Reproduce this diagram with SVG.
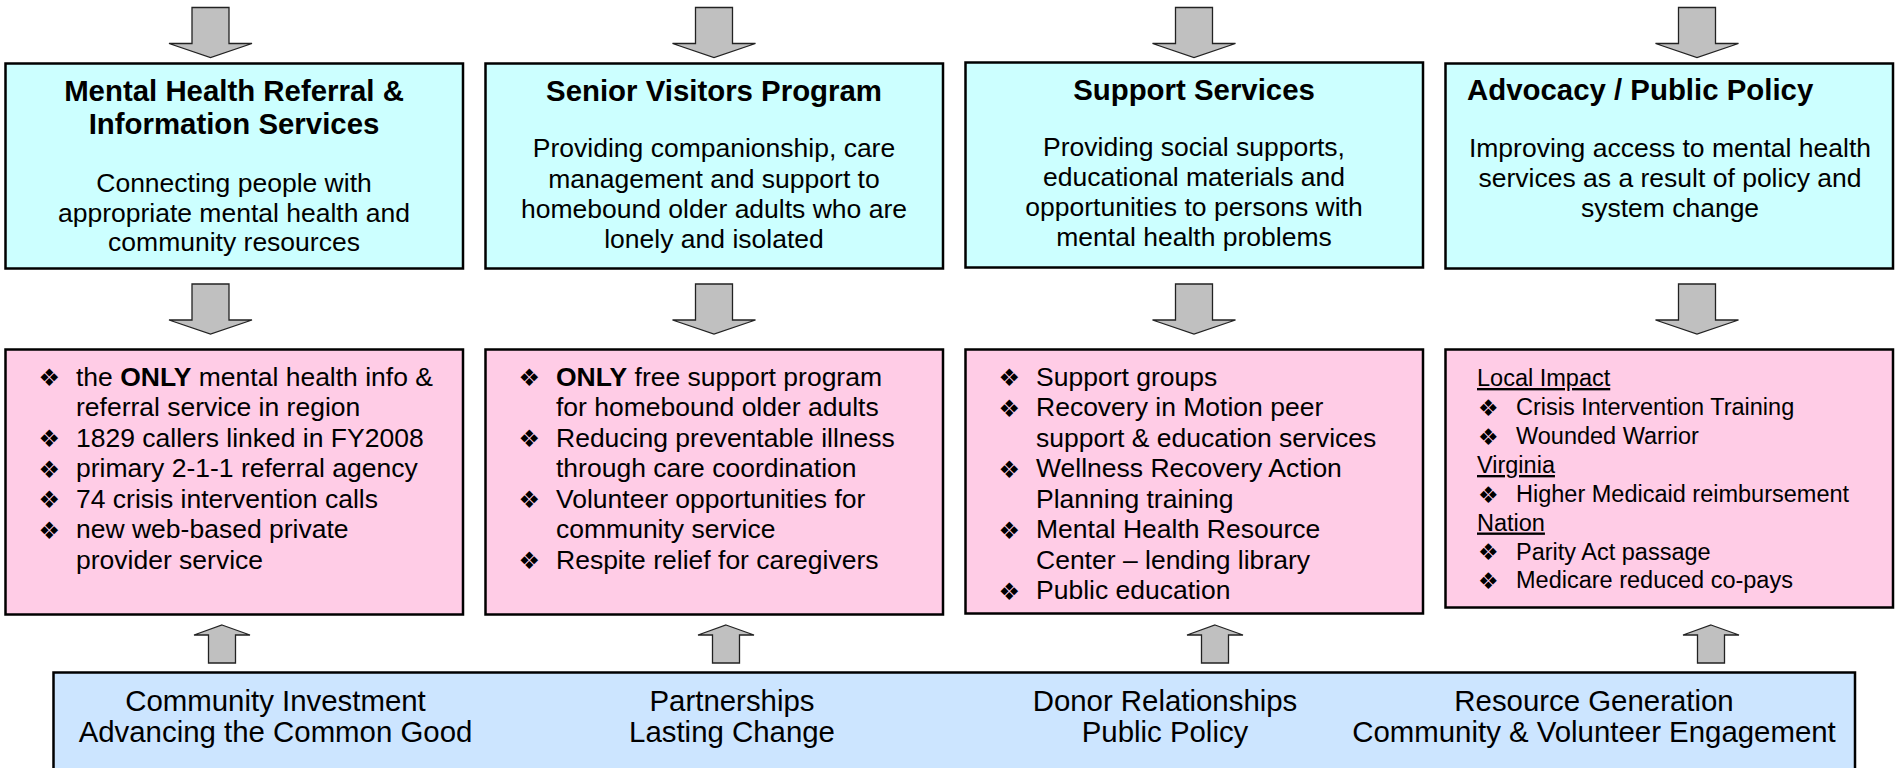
<svg xmlns="http://www.w3.org/2000/svg" width="1902" height="768" viewBox="0 0 1902 768">
<style>
text{font-family:"Liberation Sans",Arial,sans-serif;fill:#000}
.title{font-size:29.4px;font-weight:bold;text-anchor:middle}
.body{font-size:26.5px;text-anchor:middle}
.li{font-size:26.5px}
.li4{font-size:23.5px}
.bu{font-family:"DejaVu Sans",sans-serif;font-size:24px}
.bu4{font-family:"DejaVu Sans",sans-serif;font-size:23px}
.bot{font-size:29.4px;text-anchor:middle}
.cyan{fill:#CCFFFF;stroke:#000;stroke-width:2.5}
.pink{fill:#FFCCE6;stroke:#000;stroke-width:2.5}
.blue{fill:#CCE5FF;stroke:#000;stroke-width:2.5}
.arr{fill:#C0C0C0;stroke:#222;stroke-width:1.3;stroke-linejoin:miter}
.u{text-decoration:underline}
</style>
<defs>
<path id="down" class="arr" d="M-18.5,0 H18.5 V36 H41.5 L0,50 L-41.5,36 H-18.5 Z"/>
<path id="up" class="arr" d="M0,0 L28,10 H13.5 V38 H-13.5 V10 H-28 Z"/>
</defs>
<g id="connectors">
<use href="#down" transform="translate(210.5,7.5)"/>
<use href="#down" transform="translate(714,7.5)"/>
<use href="#down" transform="translate(1194,7.5)"/>
<use href="#down" transform="translate(1697,7.5)"/>
<use href="#down" transform="translate(210.5,284)"/>
<use href="#down" transform="translate(714,284)"/>
<use href="#down" transform="translate(1194,284)"/>
<use href="#down" transform="translate(1697,284)"/>
<use href="#up" transform="translate(222,625)"/>
<use href="#up" transform="translate(726,625)"/>
<use href="#up" transform="translate(1215,625)"/>
<use href="#up" transform="translate(1711,625)"/>
</g>
<g id="mh-referral">
<rect class="cyan" x="5.5" y="63.5" width="457.5" height="205"/>
<text class="title" x="234" y="101">Mental Health Referral &amp;</text>
<text class="title" x="234" y="134">Information Services</text>
<text class="body" x="234" y="191.5">Connecting people with</text>
<text class="body" x="234" y="221.5">appropriate mental health and</text>
<text class="body" x="234" y="251">community resources</text>
</g>
<g id="senior-visitors">
<rect class="cyan" x="485.5" y="63.5" width="457.5" height="205"/>
<text class="title" x="714" y="101">Senior Visitors Program</text>
<text class="body" x="714" y="157">Providing companionship, care</text>
<text class="body" x="714" y="187.5">management and support to</text>
<text class="body" x="714" y="218">homebound older adults who are</text>
<text class="body" x="714" y="248">lonely and isolated</text>
</g>
<g id="support-services">
<rect class="cyan" x="965.5" y="62.5" width="457.5" height="205"/>
<text class="title" x="1194" y="100">Support Services</text>
<text class="body" x="1194" y="156">Providing social supports,</text>
<text class="body" x="1194" y="186">educational materials and</text>
<text class="body" x="1194" y="216">opportunities to persons with</text>
<text class="body" x="1194" y="246">mental health problems</text>
</g>
<g id="advocacy">
<rect class="cyan" x="1445.5" y="63.5" width="447.5" height="205"/>
<text class="title" x="1467" y="100" style="text-anchor:start">Advocacy / Public Policy</text>
<text class="body" x="1670" y="157">Improving access to mental health</text>
<text class="body" x="1670" y="187">services as a result of policy and</text>
<text class="body" x="1670" y="217">system change</text>
</g>
<g id="mh-referral-outcomes">
<rect class="pink" x="5.5" y="349.5" width="457.5" height="265"/>
<text class="bu" x="38.5" y="386">❖</text>
<text class="li" x="76" y="385.5">the <tspan font-weight="bold">ONLY</tspan> mental health info &amp;</text>
<text class="li" x="76" y="416">referral service in region</text>
<text class="bu" x="38.5" y="447">❖</text>
<text class="li" x="76" y="446.5">1829 callers linked in FY2008</text>
<text class="bu" x="38.5" y="477.5">❖</text>
<text class="li" x="76" y="477">primary 2-1-1 referral agency</text>
<text class="bu" x="38.5" y="508">❖</text>
<text class="li" x="76" y="507.5">74 crisis intervention calls</text>
<text class="bu" x="38.5" y="538.5">❖</text>
<text class="li" x="76" y="538">new web-based private</text>
<text class="li" x="76" y="568.5">provider service</text>
</g>
<g id="senior-visitors-outcomes">
<rect class="pink" x="485.5" y="349.5" width="457.5" height="265"/>
<text class="bu" x="518.5" y="386">❖</text>
<text class="li" x="556" y="385.5"><tspan font-weight="bold">ONLY</tspan> free support program</text>
<text class="li" x="556" y="416">for homebound older adults</text>
<text class="bu" x="518.5" y="447">❖</text>
<text class="li" x="556" y="446.5">Reducing preventable illness</text>
<text class="li" x="556" y="477">through care coordination</text>
<text class="bu" x="518.5" y="508">❖</text>
<text class="li" x="556" y="507.5">Volunteer opportunities for</text>
<text class="li" x="556" y="538">community service</text>
<text class="bu" x="518.5" y="569">❖</text>
<text class="li" x="556" y="568.5">Respite relief for caregivers</text>
</g>
<g id="support-services-outcomes">
<rect class="pink" x="965.5" y="349.5" width="457.5" height="264"/>
<text class="bu" x="998.5" y="386">❖</text>
<text class="li" x="1036" y="385.5">Support groups</text>
<text class="bu" x="998.5" y="416.5">❖</text>
<text class="li" x="1036" y="416">Recovery in Motion peer</text>
<text class="li" x="1036" y="446.5">support &amp; education services</text>
<text class="bu" x="998.5" y="477.5">❖</text>
<text class="li" x="1036" y="477">Wellness Recovery Action</text>
<text class="li" x="1036" y="507.5">Planning training</text>
<text class="bu" x="998.5" y="538.5">❖</text>
<text class="li" x="1036" y="538">Mental Health Resource</text>
<text class="li" x="1036" y="568.5">Center – lending library</text>
<text class="bu" x="998.5" y="599.5">❖</text>
<text class="li" x="1036" y="599">Public education</text>
</g>
<g id="advocacy-outcomes">
<rect class="pink" x="1445.5" y="349.5" width="447.5" height="258"/>
<text class="li4 u" x="1477" y="386">Local Impact</text>
<text class="bu4" x="1478" y="415.5">❖</text>
<text class="li4" x="1516" y="415">Crisis Intervention Training</text>
<text class="bu4" x="1478" y="444.5">❖</text>
<text class="li4" x="1516" y="444">Wounded Warrior</text>
<text class="li4 u" x="1477" y="473">Virginia</text>
<text class="bu4" x="1478" y="502.5">❖</text>
<text class="li4" x="1516" y="502">Higher Medicaid reimbursement</text>
<text class="li4 u" x="1477" y="530.5">Nation</text>
<text class="bu4" x="1478" y="560">❖</text>
<text class="li4" x="1516" y="559.5">Parity Act passage</text>
<text class="bu4" x="1478" y="588.5">❖</text>
<text class="li4" x="1516" y="588">Medicare reduced co-pays</text>
</g>
<g id="foundation">
<rect class="blue" x="53.5" y="672.5" width="1801.5" height="120"/>
<text class="bot" x="275.5" y="711">Community Investment</text>
<text class="bot" x="275.5" y="742">Advancing the Common Good</text>
<text class="bot" x="732" y="711">Partnerships</text>
<text class="bot" x="732" y="742">Lasting Change</text>
<text class="bot" x="1165" y="711">Donor Relationships</text>
<text class="bot" x="1165" y="742">Public Policy</text>
<text class="bot" x="1594" y="711">Resource Generation</text>
<text class="bot" x="1594" y="742">Community &amp; Volunteer Engagement</text>
</g>
</svg>
